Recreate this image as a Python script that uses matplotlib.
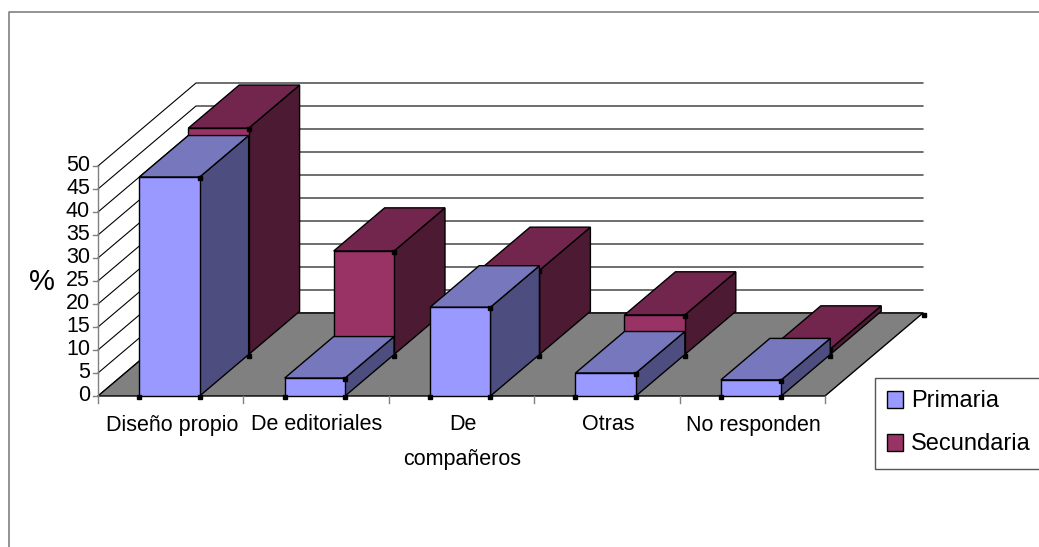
import matplotlib
matplotlib.use("Agg")
import matplotlib.pyplot as plt
from matplotlib.patches import Polygon, Rectangle

categorias = ["Diseño propio", "De editoriales", "De\ncompañeros", "Otras", "No responden"]
primaria = [47.6, 3.9, 19.3, 5.0, 3.5]
secundaria = [49.2, 22.5, 18.3, 8.6, 1.2]
ticks = [0, 5, 10, 15, 20, 25, 30, 35, 40, 45, 50]

# geometria del grafico 3D, en pixeles
x0, y0 = 98, 396
ancho_cat = 145.4
alto_unidad = 4.6
fondo_x, fondo_y = 98, -83
ancho_barra = 0.415
margen_barra = 0.284

plt.rcParams['font.family'] = ['Liberation Sans', 'DejaVu Sans']


def proy(x, v, d):
    # x en categorias, v en %, d profundidad de 0 a 1
    return (x0 + x * ancho_cat + d * fondo_x, y0 - v * alto_unidad + d * fondo_y)


def cara(ax, puntos, color, z):
    ax.add_patch(Polygon(puntos, closed=True, facecolor=color, edgecolor="black", lw=1.0, zorder=z))


def barra(ax, i, v, d1, d2, colores, z):
    a = i + margen_barra
    b = a + ancho_barra
    cara(ax, [proy(b, 0, d1), proy(b, 0, d2), proy(b, v, d2), proy(b, v, d1)], colores[2], z)
    cara(ax, [proy(a, v, d1), proy(b, v, d1), proy(b, v, d2), proy(a, v, d2)], colores[1], z)
    cara(ax, [proy(a, 0, d1), proy(b, 0, d1), proy(b, v, d1), proy(a, v, d1)], colores[0], z)
    xs = [proy(a, 0, d1)[0], proy(b, 0, d1)[0], proy(b, v, d1)[0]]
    ys = [proy(a, 0, d1)[1] + 1, proy(b, 0, d1)[1] + 1, proy(b, v, d1)[1] + 1]
    ax.plot(xs, ys, ls="none", marker="s", ms=2.5, color="black", zorder=z + 0.5)


fig = plt.figure(figsize=(10.39, 5.47), dpi=100)
ax = fig.add_axes([0, 0, 1, 1])
ax.set_xlim(0, 1039)
ax.set_ylim(547, 0)
ax.axis("off")

# marco exterior
ax.plot([9, 9, 1039], [547, 12, 12], color="#808080", lw=1.2, zorder=1)

n = len(categorias)

# suelo
ax.add_patch(Polygon([proy(0, 0, 0), proy(n, 0, 0), proy(n, 0, 1), proy(0, 0, 1)], closed=True,
                     facecolor="#808080", edgecolor="black", lw=1.0, zorder=2))
esquina = proy(n, 0, 1)
ax.plot([esquina[0] + 1], [esquina[1] + 2], ls="none", marker="s", ms=2.5, color="black", zorder=3)

# rejilla de las paredes
for t in ticks:
    ax.plot(*zip(proy(0, t, 0), proy(0, t, 1), proy(n, t, 1)), color="black", lw=0.8, zorder=1.5)
    p = proy(0, t, 0)
    ax.plot([p[0] - 5, p[0]], [p[1], p[1]], color="#808080", lw=1, zorder=3)
    ax.text(p[0] - 8, p[1] - 0.5, str(t), ha="right", va="center", fontsize=15.5, color="black")
ax.plot(*zip(proy(0, 0, 0), proy(0, ticks[-1], 0)), color="#808080", lw=1, zorder=3)

# marcas y etiquetas del eje x
for i in range(n + 1):
    p = proy(i, 0, 0)
    ax.plot([p[0], p[0]], [p[1], p[1] + 7], color="#808080", lw=1, zorder=3)
for i, c in enumerate(categorias):
    p = proy(i + 0.5, 0, 0)
    for j, parte in enumerate(c.split("\n")):
        ax.text(p[0] + 1, p[1] + 29 + j * 34, parte, ha="center", va="center", fontsize=15.5, color="black")

ax.text(42, 282, "%", ha="center", va="center", fontsize=21, color="black")

# barras: primero la serie de atras
col_sec = ["#993366", "#73264D", "#4D1A33"]
col_pri = ["#9999FF", "#7777BD", "#4D4D80"]
for i, v in enumerate(secundaria):
    barra(ax, i, v, 0.5, 1.02, col_sec, 4 + i * 0.01)
for i, v in enumerate(primaria):
    barra(ax, i, v, 0.0, 0.5, col_pri, 5 + i * 0.01)

# leyenda
ax.add_patch(Rectangle((875, 378), 170, 91, facecolor="white", edgecolor="#555555", lw=1.0, zorder=6))
ax.add_patch(Rectangle((887, 391), 16, 17, facecolor=col_pri[0], edgecolor="black", lw=1.0, zorder=7))
ax.add_patch(Rectangle((887, 434), 16, 17, facecolor=col_sec[0], edgecolor="black", lw=1.0, zorder=7))
ax.text(911, 401, "Primaria", ha="left", va="center", fontsize=17, zorder=7)
ax.text(911, 444, "Secundaria", ha="left", va="center", fontsize=17, zorder=7)

fig.savefig("out.png", dpi=100)
